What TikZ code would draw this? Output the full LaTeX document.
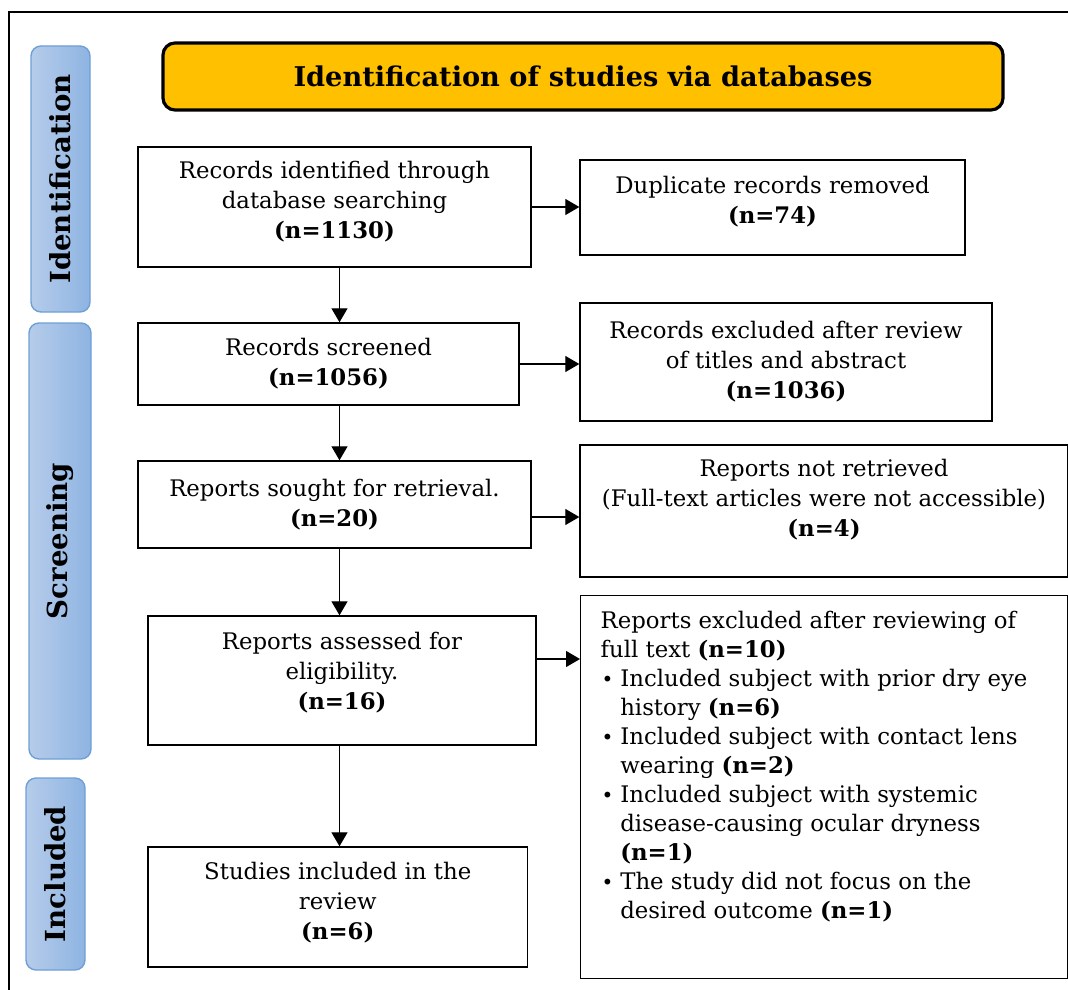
\documentclass[tikz,border=0pt]{standalone}
\usepackage{fontspec}
\setmainfont{DejaVu Serif}
\usetikzlibrary{arrows.meta}
\definecolor{prismagold}{RGB}{255,192,0}
\definecolor{phaselight}{RGB}{182,204,234}
\definecolor{phasedark}{RGB}{142,180,226}
\definecolor{phaseedge}{RGB}{110,160,215}
\newcommand{\exitem}[1]{\par\noindent\hangindent=9.8pt\hangafter=1%
    \makebox[9.8pt][l]{\hspace{0.5pt}{\fontsize{10}{10}\selectfont\textbullet}}#1}
\newcommand{\lift}[1]{\rule[-#1]{0pt}{0pt}}

\begin{document}
\begin{tikzpicture}[x=0.5pt, y=-0.5pt,
        box/.style={draw, line width=0.7pt, align=center, inner sep=0pt,
            font=\fontsize{11.4}{15}\selectfont},
        phase/.style={draw=phaseedge, line width=0.7pt, rounded corners=5pt,
            left color=phaselight, right color=phasedark, rotate=90,
            font=\bfseries\fontsize{13.8}{16}\selectfont},
        arr/.style={line width=0.65pt, -{Triangle[length=7pt,width=8pt]}}]
        \useasboundingbox (0,0) rectangle (1068,989);

        % Rahmen
        \draw[line width=1pt] (8.5,1000) -- (8.5,12) -- (1080,12);

        % Titel
        \node[draw, line width=1.6pt, rounded corners=6pt, fill=prismagold,
            minimum width=420pt, minimum height=33.5pt,
            font=\bfseries\fontsize{13.6}{16}\selectfont] (title) at (583,76.5)
            {Identification of studies via databases};

        % Phasen
        \node[phase, minimum width=133pt, minimum height=29.5pt] (ident) at (60.5,179) {Identification};
        \node[phase, minimum width=218pt, minimum height=31pt] (screen) at (60,541) {Screening};
        \node[phase, minimum width=96pt, minimum height=29.5pt] (incl) at (55.5,874) {Included};

        % linke Spalte
        \node[box, minimum width=196.5pt, minimum height=60pt] (rec) at (334.5,207)
            {Records identified through\\ database searching\\ \textbf{(n=1130)}\lift{7pt}};
        \node[box, minimum width=190.5pt, minimum height=41pt] (scr) at (328.5,364)
            {Records screened\\ \textbf{(n=1056)}};
        \node[box, minimum width=196.5pt, minimum height=43.5pt] (sought) at (334.5,504.5)
            {Reports sought for retrieval.\\ \textbf{(n=20)}};
        \node[box, minimum width=194pt, minimum height=64.5pt] (assess) at (342,680.5)
            {Reports assessed for\\ eligibility.\\ \textbf{(n=16)}\lift{10pt}};
        \node[box, minimum width=189.75pt, minimum height=60pt] (studies) at (337.75,907)
            {Studies included in the\\ review\\ \textbf{(n=6)}\lift{6pt}};

        % rechte Spalte
        \node[box, minimum width=192.5pt, minimum height=47.5pt] (dup) at (772.5,207.5)
            {Duplicate records removed\\ \textbf{(n=74)}\lift{8pt}};
        \node[box, minimum width=206pt, minimum height=59pt] (excl) at (786,362)
            {Records excluded after review\\ of titles and abstract\\ \textbf{(n=1036)}};
        \node[box, minimum width=244pt, minimum height=66pt] (notret) at (824,511)
            {Reports not retrieved\\ (Full-text articles were not accessible)\\ \textbf{(n=4)}\lift{13pt}};
        \node[box, anchor=north west, align=left, inner xsep=10pt, inner ysep=7.5pt,
            font=\fontsize{11.4}{14.5}\selectfont] (fullexcl) at (580,595)
            {\begin{minipage}[t][176.5pt][t]{223.5pt}
            Reports excluded after reviewing of\\ full text \textbf{(n=10)}
            \exitem{Included subject with prior dry eye\\ history \textbf{(n=6)}}
            \exitem{Included subject with contact lens\\ wearing \textbf{(n=2)}}
            \exitem{Included subject with systemic\\ disease-causing ocular dryness\\ \textbf{(n=1)}}
            \exitem{The study did not focus on the\\ desired outcome \textbf{(n=1)}}
            \end{minipage}};

        % Pfeile
        \coordinate (spine) at (339.5,0);
        \draw[arr] (rec.south -| spine) -- (scr.north -| spine);
        \draw[arr] (scr.south -| spine) -- (sought.north -| spine);
        \draw[arr] (sought.south -| spine) -- (assess.north -| spine);
        \draw[arr] (assess.south -| spine) -- (studies.north -| spine);
        \draw[arr] (rec.east) -- (rec.east -| dup.west);
        \draw[arr] (scr.east) -- (scr.east -| excl.west);
        \draw[arr] ([yshift=-6.25pt]sought.east) -- ([yshift=-6.25pt]sought.east -| notret.west);
        \draw[arr] ([yshift=10.75pt]assess.east) -- ([yshift=10.75pt]assess.east -| fullexcl.west);
    \end{tikzpicture}
\end{document}
